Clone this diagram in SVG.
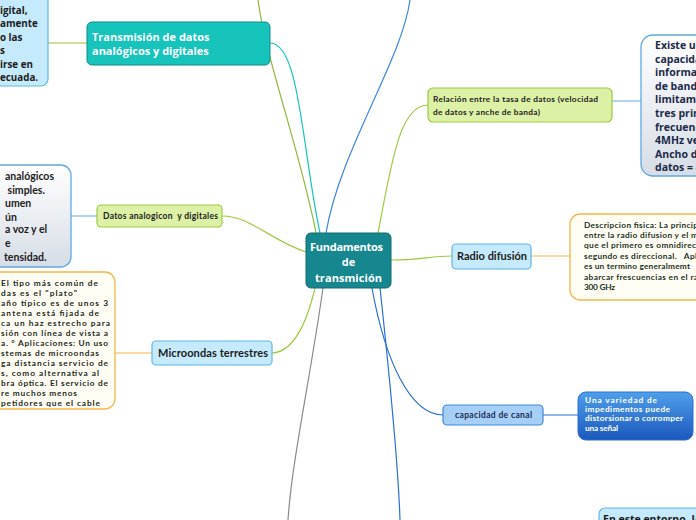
<svg xmlns="http://www.w3.org/2000/svg" width="696" height="520" viewBox="0 0 696 520">
<defs>
<linearGradient id="gGrey" x1="0" y1="0" x2="0" y2="1"><stop offset="0" stop-color="#ffffff"/><stop offset="1" stop-color="#d6dde6"/></linearGradient>
<linearGradient id="gBlue" x1="0" y1="0" x2="0" y2="1"><stop offset="0" stop-color="#4f9fea"/><stop offset="1" stop-color="#1b58bd"/></linearGradient>
<style>
.t{font-family:"Open Sans","Noto Sans",sans-serif;font-weight:bold}
.s{font-family:Lato,"Noto Sans",sans-serif;font-weight:bold}
.w{fill:#ffffff}
.k{fill:#1c1c1c}
.lb{fill:#c5eafb;stroke:#5fb5ea;stroke-width:1.2}
.lg{fill:#dcf0a6;stroke:#9ccb40;stroke-width:1.2}
.or{fill:#fffdf4;stroke:#f6b64c;stroke-width:1.3}
.gr{fill:url(#gGrey);stroke:#5fa8e0;stroke-width:1.3}
.c{fill:none;stroke-width:1.2}
.m{font-size:8.3px;fill:#1c2b22}
</style>
</defs>
<rect width="696" height="520" fill="#ffffff"/>
<g id="connectors">
<path class="c" stroke="#17c4bd" d="M270,43 C300,43 302,150 320,233"/>
<path class="c" stroke="#8fb83c" d="M316,233 C300,150 266,60 258,0"/>
<path class="c" stroke="#3f87dd" d="M326,233 C340,150 402,60 410,0"/>
<path class="c" stroke="#9ccb40" d="M378,233 C392,160 400,105 428,105"/>
<path class="c" stroke="#9ccb40" d="M306,252 C270,240 250,216 222,216"/>
<path class="c" stroke="#9ccb40" d="M391,260 C420,260 430,256 452,256"/>
<path class="c" stroke="#9ccb40" d="M315,288 C305,330 290,353 271,353"/>
<path class="c" stroke="#8a8a8a" d="M323,288 C310,380 292,460 288,520"/>
<path class="c" stroke="#2a6fd6" d="M372,288 C385,360 410,415 443,415"/>
<path class="c" stroke="#2a6fd6" d="M380,288 C390,380 398,460 400,520"/>
<path class="c" stroke="#9dbe2b" d="M48,43 L87,43"/>
<path class="c" stroke="#7fb8e8" d="M71,216 L97,216"/>
<path class="c" stroke="#f6b64c" d="M115,353 L152,353"/>
<path class="c" stroke="#7fb8e8" d="M612,101 L641,101"/>
<path class="c" stroke="#f6b64c" d="M531,256 L570,256"/>
<path class="c" stroke="#2a6fd6" d="M543,415 L578,415"/>
</g>
<g id="center">
<rect x="306" y="233" width="85" height="55" rx="5" fill="#17878f" stroke="#0f6a70"/>
<text class="t w" font-size="11" x="310" y="251" textLength="73">Fundamentos</text>
<text class="t w" font-size="11" x="348.5" y="266" text-anchor="middle">de</text>
<text class="t w" font-size="11" x="315" y="282" textLength="67">transmición</text>
</g>
<g id="n-transmision">
<rect x="87" y="22" width="183" height="43" rx="5" fill="#16c4bc" stroke="#0e8c86"/>
<text class="t w" font-size="11"><tspan x="92" y="41">Transmisión de datos</tspan><tspan x="92" y="55">analógicos y digitales</tspan></text>
</g>
<g id="n-transmision-text">
<rect x="-20" y="-10" width="68" height="96" rx="7" class="lb"/>
<text class="t k" font-size="9.8"><tspan x="0" y="14">igital,</tspan><tspan x="0" y="27.4">amente</tspan><tspan x="0" y="40.8">o las</tspan><tspan x="0" y="54.2">s</tspan><tspan x="0" y="67.6">irse en</tspan><tspan x="0" y="81">ecuada.</tspan></text>
</g>
<g id="n-datos">
<rect x="97" y="205" width="125" height="22" rx="4" class="lg"/>
<text class="s k" font-size="8.5" x="103" y="219" textLength="115" xml:space="preserve">Datos analogicon  y digitales</text>
</g>
<g id="n-datos-text">
<rect x="-20" y="165" width="91" height="102" rx="10" class="gr"/>
<text class="s k" font-size="10.5" xml:space="preserve"><tspan x="5" y="180">analógicos</tspan><tspan x="5" y="194"> simples.</tspan><tspan x="5" y="207">umen</tspan><tspan x="5" y="221">ún</tspan><tspan x="5" y="233">a voz y el</tspan><tspan x="5" y="247">e</tspan><tspan x="4" y="261">tensidad.</tspan></text>
</g>
<g id="n-microondas">
<rect x="152" y="341" width="120" height="24" rx="4" class="lb"/>
<text class="s k" font-size="11" x="158" y="357" textLength="110">Microondas terrestres</text>
</g>
<g id="n-microondas-text">
<rect x="-20" y="272" width="135" height="137" rx="10" class="or"/>
<text class="s m" x="1" y="286" textLength="97">El tipo más común de</text>
<text class="s m" x="1" y="296" textLength="76">das es el "plato"</text>
<text class="s m" x="1" y="306" textLength="107">año típico es de unos 3</text>
<text class="s m" x="1" y="316" textLength="98">antena está fijada de</text>
<text class="s m" x="1" y="326" textLength="109">ca un haz estrecho para</text>
<text class="s m" x="1" y="336" textLength="107">sión con línea de vista a</text>
<text class="s m" x="1" y="346" textLength="107">a. ° Aplicaciones: Un uso</text>
<text class="s m" x="1" y="356" textLength="98">stemas de microondas</text>
<text class="s m" x="1" y="366" textLength="107">ga distancia servicio de</text>
<text class="s m" x="1" y="376" textLength="98">s, como alternativa al</text>
<text class="s m" x="1" y="386" textLength="107">bra óptica. El servicio de</text>
<text class="s m" x="1" y="396" textLength="76">re muchos menos</text>
<text class="s m" x="1" y="406" textLength="99">petidores que el cable</text>
</g>
<g id="n-relacion">
<rect x="428" y="88" width="184" height="34" rx="5" class="lg"/>
<text class="s k" font-size="8.3" x="433" y="102" textLength="165">Relación entre la tasa de datos (velocidad</text>
<text class="s k" font-size="8.3" x="433" y="115" textLength="107">de datos y anche de banda)</text>
</g>
<g id="n-relacion-text">
<rect x="641" y="35" width="80" height="141" rx="12" class="gr"/>
<text class="t" font-size="10.5" fill="#1b2a48"><tspan x="655" y="49">Existe un</tspan><tspan x="655" y="63">capacida</tspan><tspan x="655" y="76">informac</tspan><tspan x="655" y="90">de band</tspan><tspan x="655" y="103">limitame</tspan><tspan x="655" y="117">tres prin</tspan><tspan x="655" y="131">frecuenc</tspan><tspan x="655" y="144">4MHz ve</tspan><tspan x="655" y="158">Ancho de</tspan><tspan x="655" y="171">datos = 4</tspan></text>
</g>
<g id="n-radio">
<rect x="452" y="244" width="79" height="25" rx="4" class="lb"/>
<text class="s k" font-size="11" x="457" y="260" textLength="70">Radio difusión</text>
</g>
<g id="n-radio-text">
<rect x="570" y="214" width="150" height="86" rx="10" class="or"/>
<g class="s" font-size="8.3" fill="#1c3326">
<text x="584" y="228" textLength="114">Descripcion fisica: La princip</text>
<text x="584" y="238" textLength="114">entre la radio difusion y el m</text>
<text x="584" y="248" textLength="112">que el primero es omnidirec</text>
<text x="584" y="259" textLength="113" xml:space="preserve">segundo es direccional.   Apl</text>
<text x="584" y="269" textLength="106">es un termino generalmemt</text>
<text x="584" y="280" textLength="114">abarcar frescuencias en el ra</text>
<text x="584" y="290" textLength="31">300 GHz</text>
</g>
</g>
<g id="n-capacidad">
<rect x="443" y="405" width="100" height="20" rx="4" fill="#a6cff6" stroke="#3f87dd" stroke-width="1.2"/>
<text class="s" font-size="8.5" fill="#1a2a55" x="455" y="418" textLength="77">capacidad de canal</text>
</g>
<g id="n-capacidad-text">
<rect x="578" y="392" width="115" height="48" rx="8" fill="url(#gBlue)" stroke="#2a6fd6"/>
<g class="s w" font-size="8.3">
<text x="585" y="403" textLength="72">Una variedad de</text>
<text x="585" y="412" textLength="85">impedimentos puede</text>
<text x="585" y="421" textLength="98">distorsionar o corromper</text>
<text x="585" y="431" textLength="33">una señal</text>
</g>
</g>
<g id="n-entorno">
<rect x="599" y="508" width="110" height="30" rx="6" class="lb"/>
<text class="t k" font-size="10.5" x="603" y="523">En este entorno, la</text>
</g>
</svg>
